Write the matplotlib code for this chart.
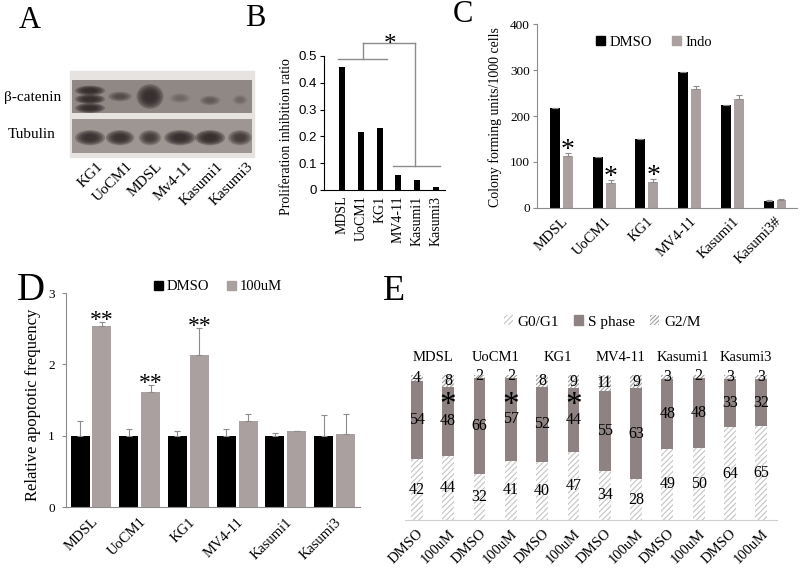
import matplotlib.pyplot as plt
from matplotlib.patches import Ellipse, Patch, Rectangle
import numpy as np

plt.rcParams['font.family'] = ['Liberation Serif', 'DejaVu Serif']
plt.rcParams['hatch.linewidth'] = 0.8

# ---- data ----
# A: western blot, band strength per lane (0-1)
blot_lanes = ['KG1', 'UoCM1', 'MDSL', 'Mv4-11', 'Kasumi1', 'Kasumi3']
bcat_level = [0.95, 0.45, 0.95, 0.2, 0.3, 0.2]
tub_level = [0.9, 0.9, 0.7, 0.95, 1.0, 0.7]

# B: proliferation inhibition
b_lines = ['MDSL', 'UoCM1', 'KG1', 'MV4-11', 'Kasumi1', 'Kasumi3']
b_ratio = [0.46, 0.215, 0.23, 0.055, 0.038, 0.01]

# C: colony forming units
c_lines = ['MDSL', 'UoCM1', 'KG1', 'MV4-11', 'Kasumi1', 'Kasumi3#']
c_dmso = [217, 110, 149, 295, 224, 16]
c_dmso_err = [1, 1, 1, 1, 1, 1]
c_indo = [113, 55, 57, 258, 238, 17]
c_indo_err = [6, 5, 5, 8, 7, 2]
c_sig = [True, True, True, False, False, False]

# D: relative apoptotic frequency
d_lines = ['MDSL', 'UoCM1', 'KG1', 'MV4-11', 'Kasumi1', 'Kasumi3']
d_dmso = [1, 1, 1, 1, 1, 1]
d_dmso_err = [0.21, 0.09, 0.07, 0.1, 0.04, 0.29]
d_100 = [2.54, 1.61, 2.13, 1.21, 1.06, 1.02]
d_100_err = [0.05, 0.1, 0.38, 0.1, 0.01, 0.28]
d_sig = [True, True, True, False, False, False]

# E: cell cycle (%)
e_lines = ['MDSL', 'UoCM1', 'KG1', 'MV4-11', 'Kasumi1', 'Kasumi3']
e_treat = ['DMSO', '100uM'] * 6
e_g0g1 = [42, 44, 32, 41, 40, 47, 34, 28, 49, 50, 64, 65]
e_s = [54, 48, 66, 57, 52, 44, 55, 63, 48, 48, 33, 32]
e_g2m = [4, 8, 2, 2, 8, 9, 11, 9, 3, 2, 3, 3]
e_sig = [False, True, False, True, False, True, False, False, False, False, False, False]

W, H = 800, 574
fig = plt.figure(figsize=(W / 100, H / 100), dpi=100)
grey = '#aba0a0'
line_grey = '#8c8c8c'


def px_axes(x0, y0, x1, y1):
    # axes from pixel box (top-left origin)
    return fig.add_axes([x0 / W, 1 - y1 / H, (x1 - x0) / W, (y1 - y0) / H])


def fx(x):
    return x / W


def fy(y):
    return 1 - y / H


def clean(ax, keep=('left', 'bottom'), color='black'):
    for k, s in ax.spines.items():
        if k in keep:
            s.set_color(color)
            s.set_linewidth(0.8)
        else:
            s.set_visible(False)


# panel letters
for t, x, y, s in [('A', 30, 20, 22), ('B', 255, 19, 22), ('C', 463, 15, 22),
                   ('D', 31, 290, 28), ('E', 394, 292, 26)]:
    fig.text(fx(x), fy(y), t, ha='center', va='center', fontsize=s)

# ---- A ----
# light membrane behind the two strips
fig.patches.append(Rectangle((fx(70), fy(157)), 184 / W, 86 / H, transform=fig.transFigure,
                             color='#e6e3e0', zorder=-5))
axA1 = px_axes(72, 80, 252, 113)
axA2 = px_axes(72, 119, 252, 153)
# band rows inside each strip (KG1 shows a triple band for beta-catenin)
bcat_rows = [[0.68, 0.42, 0.15], [0.5], [0.5], [0.45], [0.38], [0.4]]
tub_rows = [[0.45]] * 6
strips = [(axA1, bcat_level, bcat_rows, 0.3, [1.0, 0.8, 0.9, 0.7, 0.7, 0.5], '#8f8885'),
          (axA2, tub_level, tub_rows, 0.45, [1.0, 0.95, 0.75, 1.05, 1.0, 0.8], '#9d9692')]
for ax, levels, rows, h, wds, bg in strips:
    ax.set_facecolor(bg)
    ax.set_xlim(-0.6, 5.4)
    ax.set_ylim(0, 1)
    ax.set_xticks([])
    ax.set_yticks([])
    for s in ax.spines.values():
        s.set_visible(False)
    for i, lv in enumerate(levels):
        hh = h if len(rows[i]) == 1 or h > 0.4 else 0.3
        if len(rows[i]) == 1 and ax is axA1 and lv > 0.9:
            hh = 0.75
        for yc in rows[i]:
            for k in range(6):
                f = 1 - k * 0.12
                ax.add_patch(Ellipse((i, yc), wds[i] * f, hh * f, color='#2b2424',
                                     alpha=lv * 0.3, lw=0))
for i, name in enumerate(blot_lanes):
    axA2.text(i + 0.2, -0.2, name, rotation=45, ha='right', va='top',
              rotation_mode='anchor', fontsize=11)
fig.text(fx(61), fy(97), 'β-catenin', ha='right', va='center', fontsize=11)
fig.text(fx(56), fy(135), 'Tubulin', ha='right', va='center', fontsize=11)

# ---- B ----
axB = px_axes(324, 56, 445, 190)
xb = np.arange(len(b_lines))
axB.bar(xb, b_ratio, width=0.32, color='black')
axB.set_xlim(-0.96, 5.48)
axB.set_ylim(0, 0.5)
axB.set_yticks([0, 0.1, 0.2, 0.3, 0.4, 0.5])
axB.set_yticklabels(['0', '0.1', '0.2', '0.3', '0.4', '0.5'], family='Liberation Sans', fontsize=9.5)
axB.set_xticks(xb)
axB.set_xticklabels(b_lines, rotation=90, fontsize=10)
axB.tick_params(axis='x', length=0, pad=4)
axB.tick_params(axis='y', length=3, width=0.8, pad=2)
clean(axB)
for xs, ys in [([-0.2, 2.4], [0.49, 0.49]), ([1.12, 1.12], [0.49, 0.548]),
               ([1.12, 3.88], [0.548, 0.548]), ([3.88, 3.88], [0.548, 0.09]),
               ([2.7, 5.2], [0.09, 0.09])]:
    axB.plot(xs, ys, color=line_grey, lw=1, clip_on=False)
axB.text(2.55, 0.52, '*', ha='center', va='baseline', fontsize=18)
fig.text(fx(287), fy(137), 'Proliferation inhibition ratio', rotation=90,
         ha='center', va='center', fontsize=10)

# ---- C ----
axC = px_axes(537, 24, 797, 208)
xc = np.arange(len(c_lines))
ekw = dict(ecolor=line_grey, elinewidth=0.8, capsize=2.5, capthick=0.8)
axC.bar(xc - 0.152, c_dmso, 0.234, color='black', yerr=[np.zeros(6), c_dmso_err], error_kw=ekw)
axC.bar(xc + 0.152, c_indo, 0.234, color=grey, yerr=[np.zeros(6), c_indo_err], error_kw=ekw)
axC.set_xlim(-0.574, 5.515)
axC.set_ylim(0, 400)
axC.set_yticks([0, 100, 200, 300, 400])
axC.tick_params(axis='y', labelsize=9.5, length=3, color=line_grey, pad=2)
axC.set_xticks(xc)
axC.set_xticklabels(c_lines, rotation=45, ha='right', rotation_mode='anchor', fontsize=10.5)
axC.tick_params(axis='x', length=0, pad=5)
clean(axC, color=line_grey)
for i, sig in enumerate(c_sig):
    if sig:
        axC.text(i + 0.152, c_indo[i] + c_indo_err[i] - 8, '*', ha='center', va='baseline', fontsize=20)
axC.legend([Patch(color='black'), Patch(color=grey)], ['DMSO', 'Indo'], loc='center',
           bbox_to_anchor=(fx(654), fy(42)), bbox_transform=fig.transFigure, ncol=2,
           frameon=False, handlelength=0.6, handleheight=0.6, handletextpad=0.3,
           columnspacing=1.4, fontsize=10.5)
fig.text(fx(495), fy(117), 'Colony forming units/1000 cells', rotation=90,
         ha='center', va='center', fontsize=10)

# ---- D ----
axD = px_axes(66, 293, 360, 507)
xd = np.arange(len(d_lines))
axD.bar(xd - 0.225, d_dmso, 0.39, color='black', yerr=[np.zeros(6), d_dmso_err], error_kw=ekw)
axD.bar(xd + 0.225, d_100, 0.39, color=grey, yerr=[np.zeros(6), d_100_err], error_kw=ekw)
axD.set_xlim(-0.513, 5.52)
axD.set_ylim(0, 3)
axD.set_yticks([0, 1, 2, 3])
axD.tick_params(axis='y', labelsize=9.5, length=3, color=line_grey, pad=5)
axD.set_xticks(xd)
axD.set_xticklabels(d_lines, rotation=45, ha='right', rotation_mode='anchor', fontsize=10.5)
axD.tick_params(axis='x', length=0, pad=6)
clean(axD, color=line_grey)
for i, sig in enumerate(d_sig):
    if sig:
        axD.text(i + 0.225, d_100[i] + d_100_err[i] - 0.05, '**', ha='center', va='baseline', fontsize=17)
axD.legend([Patch(color='black'), Patch(color=grey)], ['DMSO', '100uM'], loc='center',
           bbox_to_anchor=(fx(218), fy(287)), bbox_transform=fig.transFigure, ncol=2,
           frameon=False, handlelength=0.6, handleheight=0.6, handletextpad=0.3,
           columnspacing=1.2, fontsize=10.5)
fig.text(fx(33), fy(405), 'Relative apoptotic frequency', rotation=90,
         ha='center', va='center', fontsize=12)

# ---- E ----
axE = px_axes(405, 375, 777, 520)
xe = np.arange(len(e_treat))
s_col = '#8e8282'
g0 = np.array(e_g0g1)
s = np.array(e_s)
bars1 = axE.bar(xe, g0, 0.38, color='white', edgecolor='#c4c4c4', hatch='//////', lw=0)
bars2 = axE.bar(xe, s, 0.38, bottom=g0, color=s_col)
bars3 = axE.bar(xe, e_g2m, 0.38, bottom=g0 + s, color='white', edgecolor='#a0a0a0', hatch='////////', lw=0)
for bc in (bars1, bars2, bars3):
    axE.bar_label(bc, label_type='center', fontsize=11.5)
axE.set_xlim(-0.38, 11.5)
axE.set_ylim(0, 100)
axE.set_yticks([])
axE.set_xticks(xe)
axE.set_xticklabels(e_treat, rotation=45, ha='right', rotation_mode='anchor', fontsize=10.5)
axE.tick_params(axis='x', length=0, pad=5)
clean(axE, keep=('bottom',), color='#d0d0d0')
for i, sig in enumerate(e_sig):
    if sig:
        axE.text(i, 73, '*', ha='center', va='baseline', fontsize=24)
for g, name in enumerate(e_lines):
    axE.text(2 * g + 0.5, 112, name, ha='center', va='center', fontsize=10.5)
axE.legend([Patch(facecolor='white', edgecolor='#c4c4c4', hatch='//////', lw=0),
            Patch(color=s_col),
            Patch(facecolor='white', edgecolor='#a0a0a0', hatch='////////', lw=0)],
           ['G0/G1', 'S phase', 'G2/M'], loc='center',
           bbox_to_anchor=(fx(602), fy(322)), bbox_transform=fig.transFigure, ncol=3,
           frameon=False, handlelength=0.6, handleheight=0.6, handletextpad=0.3,
           columnspacing=1.0, fontsize=11)

fig.savefig('out.png', dpi=100)
